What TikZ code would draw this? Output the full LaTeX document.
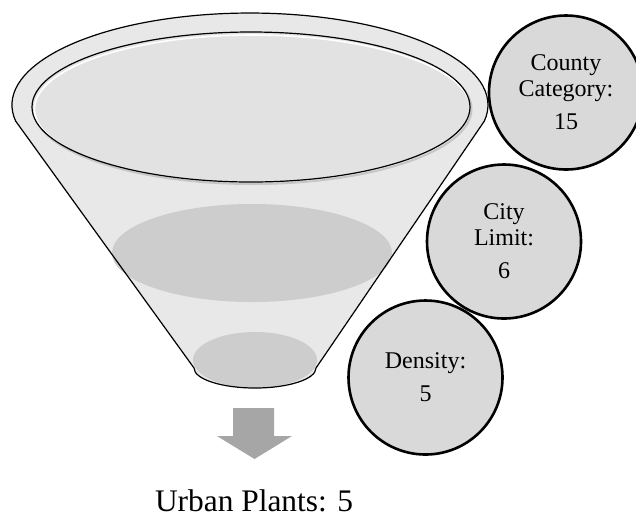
\documentclass[tikz,border=0pt]{standalone}
\usepackage{fontspec}
\setmainfont{Liberation Serif}
\definecolor{funbody}{HTML}{E8E8E8}
\definecolor{funtop}{HTML}{E2E2E2}
\definecolor{funband}{HTML}{CDCDCD}
\definecolor{bubfill}{HTML}{D9D9D9}
\definecolor{arrgray}{HTML}{A6A6A6}

\begin{document}
\begin{tikzpicture}[x=0.5pt,y=-0.5pt,
  bubble/.style={circle,draw=black,line width=1.3pt,fill=bubfill,minimum size=77pt,inner sep=0pt,
    align=center,font=\fontsize{12}{13}\selectfont}]
  \useasboundingbox (0,0) rectangle (636,516);
  % embudo: borde de arriba + cono + fondo
  \coordinate (L) at (15.6,121); \coordinate (BR) at (316,368);
  \path[save path=\funpath] (L) arc[start angle=170,end angle=370,x radius=238,y radius=92]
    -- (BR) arc[start angle=0,end angle=180,x radius=61,y radius=20] -- cycle;
  \fill[gray!30,shift={(2,2)},use path=\funpath];
  \fill[funbody,use path=\funpath];
  % bandas
  \fill[funband] (252,253) ellipse (140 and 49);
  \fill[funband] (255,360) ellipse (62 and 28);
  % boca
  \draw[gray!45,line width=1pt] (252.5,109) ellipse (219 and 75);
  \filldraw[fill=funtop,line width=0.6pt] (251,107) ellipse (219 and 75);
  \begin{scope}
    \clip (251,107) ellipse (218 and 74);
    \draw[white,line width=0.8pt] (252.5,109) ellipse (218 and 74);
  \end{scope}
  \draw[line width=0.6pt,use path=\funpath];
  % flecha de salida
  \fill[arrgray] (233,408)--(274,408)--(274,436)--(292,436)--(254.5,459)--(217,436)--(233,436)--cycle;
  \node[font=\fontsize{15.7}{19}\selectfont,anchor=base] (urban) at (254,511) {Urban Plants: 5};
  % filtros
  \node[bubble] (county) at (566,92.5) {County\\Category:\\[3.5pt]15};
  \node[bubble] (city) at (504,241.5) {City\\Limit:\\[3.5pt]6};
  \node[bubble] (density) at (425.5,377.5) {Density:\\[3.5pt]5};
\end{tikzpicture}
\end{document}
